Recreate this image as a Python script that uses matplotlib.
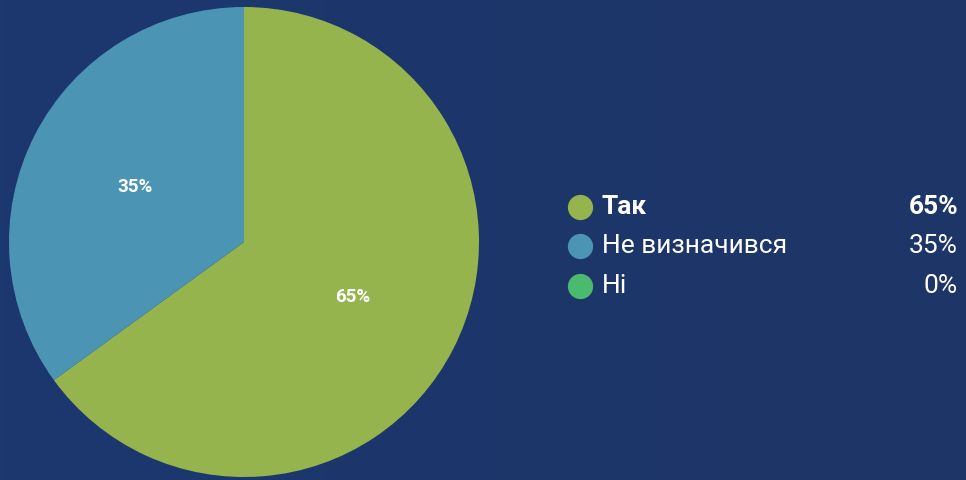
import matplotlib
matplotlib.use("Agg")
import matplotlib.pyplot as plt
import numpy as np
from matplotlib.colors import LinearSegmentedColormap

labels = ["Так", "Не визначився", "Ні"]
values = [65, 35, 0]
colors = ["#95b44e", "#4c94b4", "#4cba6e"]

plt.rcParams['font.family'] = ['Roboto', 'DejaVu Sans']

fig = plt.figure(figsize=(9.66, 4.8), dpi=100)

# background gradient
bg = fig.add_axes([0, 0, 1, 1])
grad = np.linspace(0, 1, 256).reshape(1, -1)
cmap = LinearSegmentedColormap.from_list("bg", ["#1b386f", "#1f3567"])
bg.imshow(grad, aspect="auto", cmap=cmap, extent=[0, 1, 0, 1])
bg.axis("off")

ax = fig.add_axes([0, 0, 1, 1])
ax.set_facecolor("none")


def fmt(p):
    return "" if p < 0.5 else "%d%%" % round(p)


wedges, texts, autotexts = ax.pie(values, colors=colors, startangle=90, counterclock=False,
                                  center=(244, 480 - 242), radius=235, autopct=fmt, pctdistance=0.52,
                                  textprops=dict(color="white", fontsize=13.5, fontweight="bold"))
ax.set_xlim(0, 966)
ax.set_ylim(0, 480)
ax.set_aspect("equal")
ax.axis("off")

# legend
ys = [207, 246, 286]
for i in range(len(labels)):
    y = 480 - ys[i]
    ax.scatter([580], [y], s=330, color=colors[i], zorder=3, linewidths=0)
    w = "bold" if i == 0 else "normal"
    ax.text(602, y, labels[i], color="white", fontsize=19, fontweight=w, va="center", ha="left")
    ax.text(958, y, "%d%%" % values[i], color="white", fontsize=19, fontweight=w, va="center", ha="right")

fig.savefig("out.png", dpi=100)
